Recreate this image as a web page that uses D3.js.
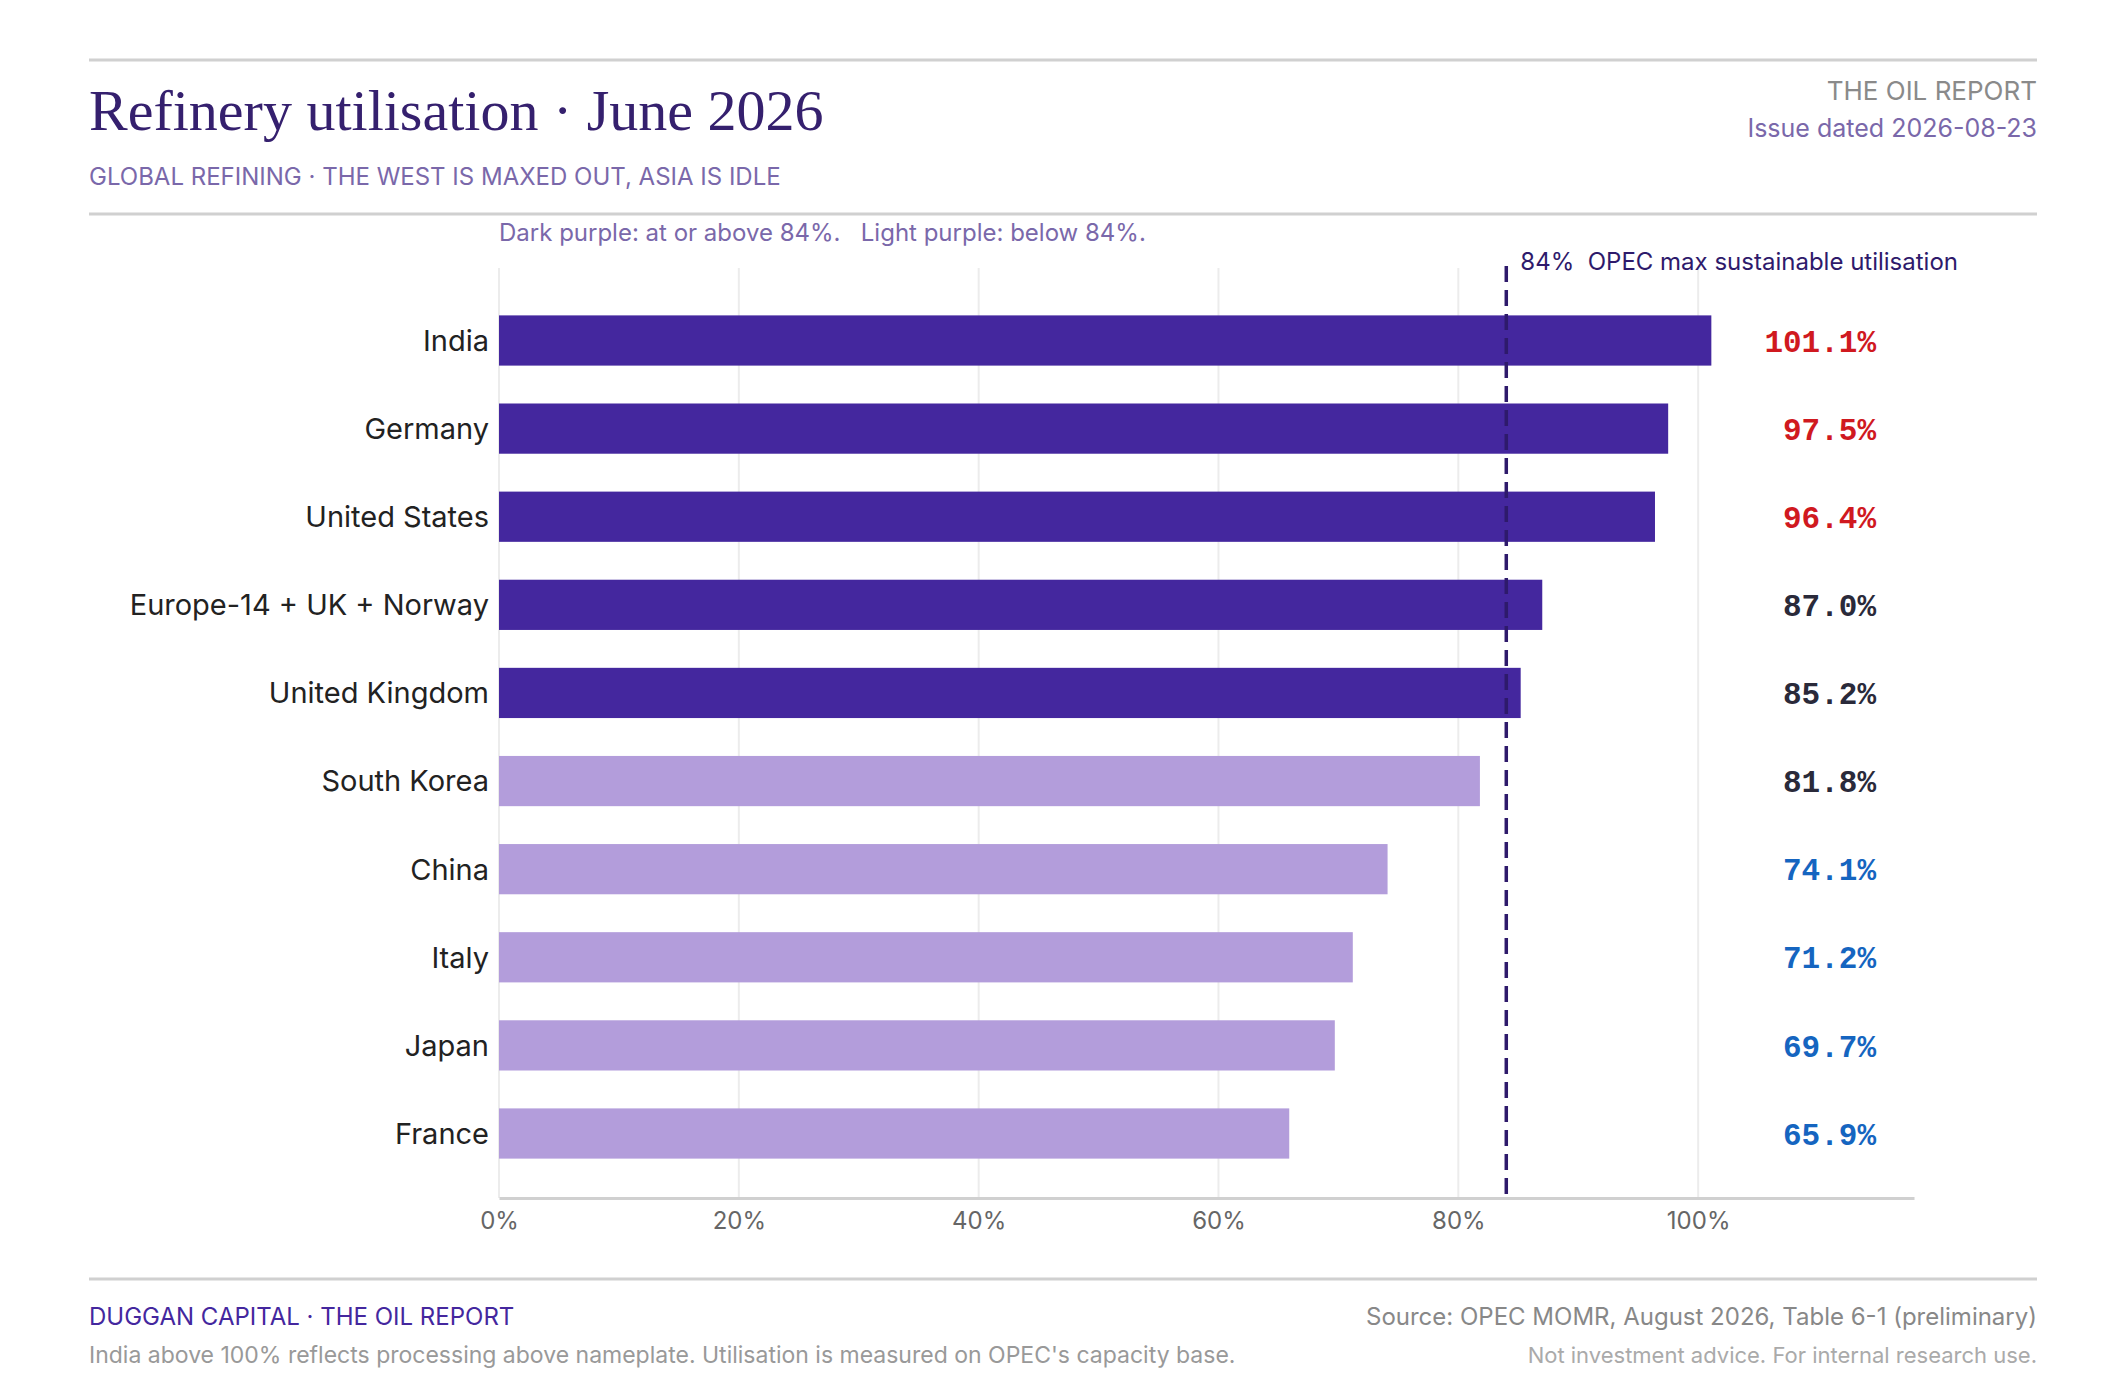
<!DOCTYPE html>
<html>
<head>
<meta charset="utf-8">
<script src="https://cdn.jsdelivr.net/npm/d3@7"></script>
<style>
  body { margin: 0; background: #fff; }
  svg { display: block; }
  .sans { font-family: Inter, "Noto Sans", sans-serif; }
  .mono { font-family: "Liberation Mono", "DejaVu Sans Mono", monospace; }
</style>
</head>
<body>
<svg id="chart" width="2120" height="1400"></svg>
<script>
const countries = ["India", "Germany", "United States", "Europe-14 + UK + Norway", "United Kingdom",
                   "South Korea", "China", "Italy", "Japan", "France"];
const utilisation = [101.1, 97.5, 96.4, 87.0, 85.2, 81.8, 74.1, 71.2, 69.7, 65.9];
const threshold = 84;
const xTicks = [0, 20, 40, 60, 80, 100];

const svg = d3.select("#chart");
const left = 89, right = 2037;
const plot = {x0: 499, x1: 1914, top: 268, bottom: 1198};

// header
svg.append("line").attr("x1", left).attr("x2", right).attr("y1", 60).attr("y2", 60)
    .attr("stroke", "#d0d0d0").attr("stroke-width", 3);
svg.append("text").attr("x", left).attr("y", 130)
    .style("font-family", "'Liberation Serif', 'DejaVu Serif', serif").style("font-size", "58px")
    .attr("fill", "#35206e").text("Refinery utilisation · June 2026");
svg.append("text").attr("class", "sans").attr("x", left).attr("y", 185)
    .style("font-size", "24px").attr("fill", "#7a68aa")
    .text("GLOBAL REFINING · THE WEST IS MAXED OUT, ASIA IS IDLE");
svg.append("text").attr("class", "sans").attr("x", right).attr("y", 100).attr("text-anchor", "end")
    .style("font-size", "26px").attr("fill", "#8a8a8a").text("THE OIL REPORT");
svg.append("text").attr("class", "sans").attr("x", right).attr("y", 137).attr("text-anchor", "end")
    .style("font-size", "25px").attr("fill", "#7a68aa").text("Issue dated 2026-08-23");
svg.append("line").attr("x1", left).attr("x2", right).attr("y1", 214).attr("y2", 214)
    .attr("stroke", "#d0d0d0").attr("stroke-width", 3);
svg.append("text").attr("class", "sans").attr("x", plot.x0).attr("y", 241)
    .style("font-size", "24px").attr("fill", "#7a68aa")
    .text("Dark purple: at or above 84%.   Light purple: below 84%.")
    .style("white-space", "pre");

// scales
const x = d3.scaleLinear().domain([0, 118]).range([plot.x0, plot.x1]);
const y = d3.scaleBand().domain(countries).range([296, 1178]).paddingInner(0.43).paddingOuter(0.22);

// gridlines
svg.append("g").selectAll("line").data(xTicks).join("line")
    .attr("x1", d => x(d)).attr("x2", d => x(d)).attr("y1", plot.top).attr("y2", plot.bottom)
    .attr("stroke", "#ececec").attr("stroke-width", 2);

// bars
svg.append("g").selectAll("rect").data(countries).join("rect")
    .attr("x", x(0)).attr("y", d => y(d))
    .attr("width", (d, i) => x(utilisation[i]) - x(0)).attr("height", y.bandwidth())
    .attr("fill", (d, i) => utilisation[i] >= threshold ? "#44279e" : "#b39ddb");

// category labels
svg.append("g").selectAll("text").data(countries).join("text")
    .attr("class", "sans").attr("x", plot.x0 - 10).attr("y", d => y(d) + y.bandwidth() / 2)
    .attr("dy", "0.36em").attr("text-anchor", "end").style("font-size", "29px").attr("fill", "#222")
    .text(d => d);

// values
const valueColor = v => v >= 90 ? "#d0191f" : v >= 80 ? "#2a2a3a" : "#1565c0";
svg.append("g").selectAll("text").data(utilisation).join("text")
    .attr("class", "mono").attr("x", 1876).attr("y", (d, i) => y(countries[i]) + y.bandwidth() / 2)
    .attr("dy", "0.36em").attr("text-anchor", "end").style("font-size", "31px")
    .style("font-weight", "bold").attr("fill", valueColor)
    .text(d => d.toFixed(1) + "%");

// threshold line
svg.append("line").attr("x1", x(threshold)).attr("x2", x(threshold))
    .attr("y1", 266).attr("y2", plot.bottom)
    .attr("stroke", "#2e1a6b").attr("stroke-width", 3.5).attr("stroke-dasharray", "16,8");
svg.append("text").attr("class", "sans").attr("x", x(threshold) + 14).attr("y", 270)
    .style("font-size", "24px").attr("fill", "#2e1a6b").style("white-space", "pre")
    .text("84%  OPEC max sustainable utilisation");

// axis
const axis = svg.append("g").attr("transform", `translate(0,${plot.bottom})`)
    .call(d3.axisBottom(x).tickValues(xTicks).tickFormat(d => d + "%").tickSize(0).tickPadding(14));
axis.select(".domain").attr("stroke", "#d0d0d0").attr("stroke-width", 3);
axis.selectAll("text").attr("class", "sans").style("font-size", "24px").attr("fill", "#666");

// footer
svg.append("line").attr("x1", left).attr("x2", right).attr("y1", 1279).attr("y2", 1279)
    .attr("stroke", "#d0d0d0").attr("stroke-width", 3);
svg.append("text").attr("class", "sans").attr("x", left).attr("y", 1325)
    .style("font-size", "24px").attr("fill", "#44279e").text("DUGGAN CAPITAL · THE OIL REPORT");
svg.append("text").attr("class", "sans").attr("x", left).attr("y", 1363)
    .style("font-size", "23px").attr("fill", "#999")
    .text("India above 100% reflects processing above nameplate. Utilisation is measured on OPEC's capacity base.");
svg.append("text").attr("class", "sans").attr("x", right).attr("y", 1325).attr("text-anchor", "end")
    .style("font-size", "24px").attr("fill", "#888")
    .text("Source: OPEC MOMR, August 2026, Table 6-1 (preliminary)");
svg.append("text").attr("class", "sans").attr("x", right).attr("y", 1363).attr("text-anchor", "end")
    .style("font-size", "22px").attr("fill", "#aaa")
    .text("Not investment advice. For internal research use.");
</script>
</body>
</html>
